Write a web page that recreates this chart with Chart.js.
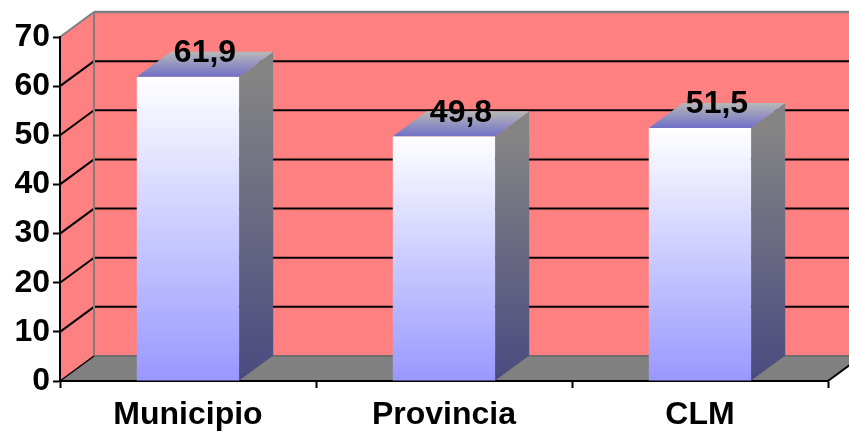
<!DOCTYPE html>
<html>
<head>
<meta charset="utf-8">
<script src="https://cdn.jsdelivr.net/npm/chart.js@4.4.1/dist/chart.umd.min.js"></script>
<style>
  html, body { margin: 0; padding: 0; background: #ffffff; }
  #wrap { width: 849px; height: 433px; position: relative; }
</style>
</head>
<body>
<div id="wrap"><canvas id="c" width="849" height="433"></canvas></div>
<script>
// ---- data ----
const categories = ['Municipio', 'Provincia', 'CLM'];
const values = [61.9, 49.8, 51.5];
const yTickValues = [0, 10, 20, 30, 40, 50, 60, 70];

// ---- style ----
const DX = 34, DY = -25;
const PINK = '#FF8080';
const FLOOR = '#808080';
const WALL_EDGE = '#7f7f7f';
const FAMILY = '"Liberation Sans", Arial, sans-serif';
const FSIZE = 32;
const FONT = 'bold ' + FSIZE + 'px ' + FAMILY;

function fmt(v) { return v.toFixed(1).replace('.', ','); }

const yMin = yTickValues[0];
const yMax = yTickValues[yTickValues.length - 1];
const yStep = yTickValues[1] - yTickValues[0];

function poly(ctx, pts) {
  ctx.beginPath();
  ctx.moveTo(pts[0][0], pts[0][1]);
  for (let i = 1; i < pts.length; i++) ctx.lineTo(pts[i][0], pts[i][1]);
  ctx.closePath();
}
function line(ctx, x1, y1, x2, y2, color, w) {
  ctx.beginPath();
  ctx.moveTo(x1, y1); ctx.lineTo(x2, y2);
  ctx.strokeStyle = color; ctx.lineWidth = w; ctx.stroke();
}

const threeD = {
  id: 'threeD',
  beforeDraw(chart) {
    const { ctx, scales: { x, y } } = chart;
    const L = x.left, R = x.right;
    const y0 = y.getPixelForValue(yMin), yT = y.getPixelForValue(yMax);
    const W = chart.width + 60;
    ctx.save();
    ctx.fillStyle = PINK;
    ctx.fillRect(L + DX, yT + DY, W, y0 - yT);
    poly(ctx, [[L, yT], [L + DX, yT + DY], [L + DX, y0 + DY], [L, y0]]);
    ctx.fill();
    ctx.fillStyle = FLOOR;
    poly(ctx, [[L, y0], [R, y0], [R + DX, y0 + DY], [L + DX, y0 + DY]]);
    ctx.fill();
    yTickValues.forEach(v => {
      if (v <= yMin || v >= yMax) return;
      const py = y.getPixelForValue(v);
      line(ctx, L + DX, py + DY, W, py + DY, '#000', 2);
      line(ctx, L, py, L + DX, py + DY, '#000', 2);
    });
    line(ctx, L + DX, yT + DY, W, yT + DY, WALL_EDGE, 2.5);
    line(ctx, L, yT, L + DX, yT + DY, WALL_EDGE, 2);
    line(ctx, L + DX, yT + DY, L + DX, y0 + DY, WALL_EDGE, 2);
    line(ctx, L + DX, y0 + DY, W, y0 + DY, '#6e6e6e', 2);
    line(ctx, L, y0, L + DX, y0 + DY, '#000', 1.5);
    line(ctx, R, y0, R + DX, y0 + DY, '#000', 2);
    ctx.restore();
  },
  afterDatasetsDraw(chart) {
    const { ctx } = chart;
    const meta = chart.getDatasetMeta(0);
    ctx.save();
    meta.data.forEach((bar, i) => {
      const w = bar.width;
      const left = bar.x - w / 2, right = bar.x + w / 2;
      const top = bar.y, base = bar.base;
      let g = ctx.createLinearGradient(0, top, 0, base);
      g.addColorStop(0, '#848484');
      g.addColorStop(1, '#4a4a80');
      ctx.fillStyle = g;
      poly(ctx, [[right, top], [right + DX, top + DY], [right + DX, base + DY], [right, base]]);
      ctx.fill();
      g = ctx.createLinearGradient(0, top + DY, 0, top);
      g.addColorStop(0, '#b8b8b8');
      g.addColorStop(1, '#7070c8');
      ctx.fillStyle = g;
      poly(ctx, [[left, top], [right, top], [right + DX, top + DY], [left + DX, top + DY]]);
      ctx.fill();
      ctx.fillStyle = '#000';
      ctx.font = FONT;
      ctx.textAlign = 'center';
      ctx.textBaseline = 'alphabetic';
      ctx.fillText(fmt(values[i]), bar.x + DX / 2, top + DY / 2 - 2);
    });
    ctx.restore();
  }
};

const ctxEl = document.getElementById('c');
new Chart(ctxEl, {
  type: 'bar',
  data: {
    labels: categories,
    datasets: [{
      data: values,
      borderWidth: 0,
      barPercentage: 0.4,
      categoryPercentage: 1.0,
      backgroundColor: (c) => {
        const chart = c.chart;
        if (!chart.chartArea || c.dataIndex === undefined) return '#ccccff';
        const ys = chart.scales.y;
        const top = ys.getPixelForValue(values[c.dataIndex]);
        const base = ys.getPixelForValue(0);
        const g = chart.ctx.createLinearGradient(0, top, 0, base);
        g.addColorStop(0, '#ffffff');
        g.addColorStop(1, '#9898ff');
        return g;
      }
    }]
  },
  options: {
    responsive: false,
    animation: false,
    events: [],
    layout: { padding: { top: 37, right: 21, left: 0, bottom: 0 } },
    plugins: { legend: { display: false }, tooltip: { enabled: false } },
    scales: {
      x: {
        z: 1,
        grid: { drawOnChartArea: false, drawTicks: true, tickLength: 7, tickColor: '#000', tickWidth: 2, offset: true },
        border: { display: true, color: '#000', width: 2 },
        ticks: { color: '#000', font: { family: FAMILY, size: FSIZE, weight: 'bold' }, padding: 8, maxRotation: 0 },
        afterFit(s) { s.height = 52; }
      },
      y: {
        z: 1,
        min: yMin, max: yMax,
        grid: { drawOnChartArea: false, drawTicks: true, tickLength: 7, tickColor: '#000', tickWidth: 2 },
        border: { display: true, color: '#000', width: 2 },
        ticks: { stepSize: yStep, color: '#000', font: { family: FAMILY, size: FSIZE, weight: 'bold' }, padding: 3 },
        afterFit(s) { s.width = 60; }
      }
    }
  },
  plugins: [threeD]
});
</script>
</body>
</html>
